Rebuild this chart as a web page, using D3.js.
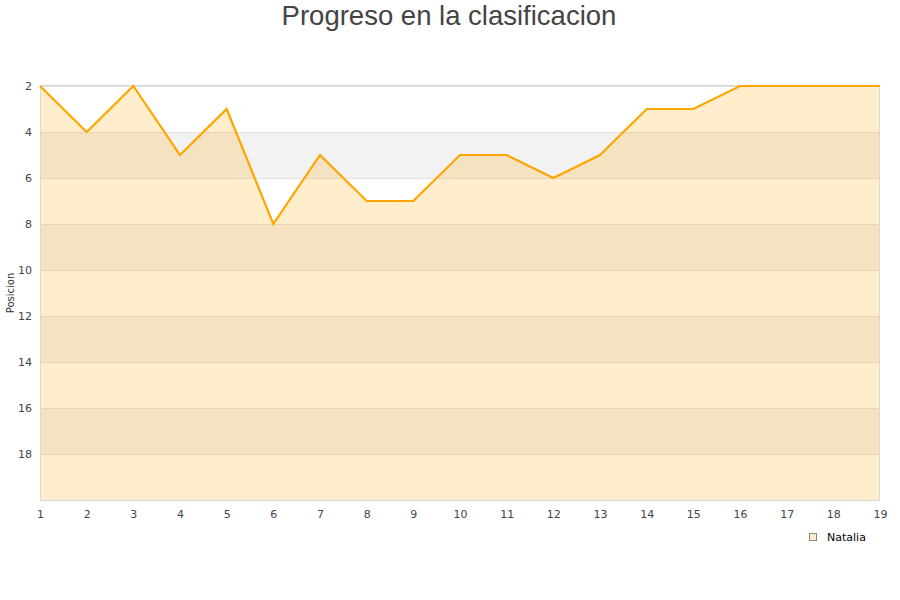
<!DOCTYPE html>
<html><head><meta charset="utf-8">
<script src="https://cdn.jsdelivr.net/npm/d3@7"></script>
<style>body{margin:0;background:#fff}svg{display:block}</style>
</head><body>
<svg id="c" width="900" height="600"></svg>
<script>
const jornadas = [1,2,3,4,5,6,7,8,9,10,11,12,13,14,15,16,17,18,19];
const posiciones = [2,4,2,5,3,8,5,7,7,5,5,6,5,3,3,2,2,2,2];
const yTicks = [2,4,6,8,10,12,14,16,18];
const serieName = "Natalia";
const titulo = "Progreso en la clasificacion";
const yTitulo = "Posicion";

const svg = d3.select("#c");
const L = 40, R = 880, T = 86, B = 500;
const x = d3.scaleLinear().domain([1,19]).range([L,R]);
const y = d3.scaleLinear().domain([2,20]).range([T,B]);

const bands = d3.range(2,20,2);
svg.selectAll("rect.band").data(bands).enter().append("rect")
  .attr("x",L).attr("width",R-L)
  .attr("y",d=>y(d)).attr("height",d=>y(d+2)-y(d))
  .attr("fill",(d,i)=> i%2===1 ? "#f2f2f2" : "#ffffff");
svg.selectAll("line.grid").data(yTicks).enter().append("line")
  .attr("x1",L).attr("x2",R).attr("y1",d=>y(d)).attr("y2",d=>y(d))
  .attr("stroke","#e2e2e2").attr("stroke-width",1).attr("shape-rendering","crispEdges");

const data = jornadas.map((j,i)=>({j, p:posiciones[i]}));
svg.append("path").datum(data)
  .attr("d", d3.area().x(d=>x(d.j)).y0(B).y1(d=>y(d.p)))
  .attr("fill","#ffa500").attr("fill-opacity",0.2);

svg.append("line").attr("x1",L).attr("x2",R).attr("y1",T-0.5).attr("y2",T-0.5).attr("stroke","#d8d8d8");
svg.append("line").attr("x1",L+0.5).attr("x2",L+0.5).attr("y1",T).attr("y2",B).attr("stroke","#d8d8d8");
svg.append("line").attr("x1",R-0.5).attr("x2",R-0.5).attr("y1",T).attr("y2",B).attr("stroke","#d8d8d8");
svg.append("line").attr("x1",L).attr("x2",R).attr("y1",B+0.5).attr("y2",B+0.5).attr("stroke","#d8d8d8");

svg.append("path").datum(data)
  .attr("d", d3.line().x(d=>x(d.j)).y(d=>y(d.p)))
  .attr("fill","none").attr("stroke","#ffa500").attr("stroke-width",2.2);

const yAxis = svg.append("g").attr("transform",`translate(${L},0)`)
  .call(d3.axisLeft(y).tickValues(yTicks).tickSize(0).tickPadding(8));
yAxis.select(".domain").remove();
yAxis.selectAll("text").attr("font-family","DejaVu Sans").attr("font-size",11).attr("fill","#444");

const xAxis = svg.append("g").attr("transform",`translate(0,${B})`)
  .call(d3.axisBottom(x).tickValues(jornadas).tickFormat(d3.format("d")).tickSize(0).tickPadding(10));
xAxis.select(".domain").remove();
xAxis.selectAll("text").attr("font-family","DejaVu Sans").attr("font-size",11).attr("fill","#444");

svg.append("text").attr("x",449).attr("y",25).attr("text-anchor","middle")
  .attr("font-family","Liberation Sans, Arial").attr("font-size",27.5).attr("fill","#444").text(titulo);

svg.append("text").attr("transform","translate(14,293) rotate(-90)").attr("text-anchor","middle")
  .attr("font-family","DejaVu Sans").attr("font-size",10).attr("fill","#333").text(yTitulo);

svg.append("rect").attr("x",809.5).attr("y",533.5).attr("width",7).attr("height",7)
  .attr("fill","#ffedcc").attr("stroke","#888");
svg.append("text").attr("x",827).attr("y",541).attr("font-family","DejaVu Sans").attr("font-size",11)
  .attr("fill","#000").text(serieName);
</script>
</body></html>
